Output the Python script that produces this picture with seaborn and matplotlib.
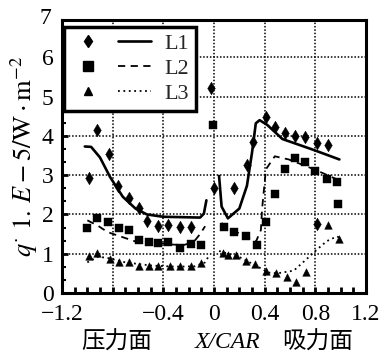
import matplotlib
matplotlib.use("Agg")
import matplotlib.pyplot as plt
import seaborn as sns
from matplotlib.lines import Line2D
from matplotlib.legend_handler import HandlerTuple
from matplotlib.ticker import MultipleLocator, FixedLocator

# ---------------- data ----------------
# L1 (diamond markers, solid line)
l1_pts_x = [-0.99, -0.92, -0.83, -0.76, -0.67, -0.59, -0.53, -0.44, -0.36, -0.27, -0.18,
            -0.02, 0.0, 0.16, 0.26, 0.31, 0.41, 0.48, 0.56, 0.64, 0.72, 0.81, 0.90, 0.81]
l1_pts_y = [2.92, 4.15, 3.55, 2.72, 2.42, 2.17, 1.84, 1.70, 1.72, 1.67, 1.68,
            5.22, 2.67, 2.68, 3.25, 3.85, 4.47, 4.23, 4.07, 3.99, 3.97, 3.82, 3.76, 1.76]
l1_ps_x = [-1.02, -0.97, -0.90, -0.82, -0.72, -0.62, -0.53, -0.40, -0.24, -0.11, -0.08, -0.06]
l1_ps_y = [3.73, 3.72, 3.45, 2.95, 2.45, 2.15, 2.00, 1.94, 1.93, 1.92, 2.02, 2.36]
l1_ss_x = [0.04, 0.06, 0.11, 0.20, 0.26, 0.30, 0.33, 0.36, 0.42, 0.54, 0.78, 0.99]
l1_ss_y = [2.98, 2.20, 1.90, 2.15, 2.73, 3.57, 4.32, 4.40, 4.28, 3.92, 3.65, 3.40]

# L2 (square markers, dashed line)
l2_pts_x = [-1.0, -0.92, -0.84, -0.75, -0.67, -0.59, -0.51, -0.44, -0.36, -0.27, -0.18, -0.10,
            -0.01, 0.08, 0.16, 0.25, 0.34, 0.41, 0.485, 0.56, 0.64, 0.72, 0.80, 0.89, 0.97, 0.98]
l2_pts_y = [1.65, 1.90, 1.82, 1.66, 1.60, 1.36, 1.31, 1.27, 1.29, 1.15, 1.24, 1.23,
            4.28, 1.67, 1.56, 1.44, 1.23, 1.80, 2.52, 3.16, 3.44, 3.33, 3.11, 2.90, 2.83, 2.27]
l2_ps_x = [-1.0, -0.92, -0.84, -0.72, -0.60, -0.47, -0.37, -0.24, -0.16, -0.11, -0.07]
l2_ps_y = [1.85, 1.72, 1.55, 1.42, 1.29, 1.30, 1.24, 1.22, 1.30, 1.50, 1.70]
l2_ss_x = [0.06, 0.16, 0.25, 0.33, 0.37, 0.38, 0.41, 0.48, 0.59, 0.79, 0.98]
l2_ss_y = [1.78, 1.58, 1.44, 1.30, 1.60, 2.15, 3.15, 3.48, 3.40, 3.15, 2.88]

# L3 (triangle markers, dotted line)
l3_pts_x = [-0.99, -0.92, -0.82, -0.75, -0.67, -0.59, -0.51, -0.44, -0.35, -0.27, -0.18, -0.10,
            0.07, 0.11, 0.17, 0.25, 0.32, 0.41, 0.49, 0.58, 0.65, 0.73, 0.90, 0.99]
l3_pts_y = [0.93, 1.01, 0.86, 0.80, 0.79, 0.70, 0.70, 0.70, 0.70, 0.69, 0.69, 0.76,
            1.03, 0.98, 0.98, 0.82, 0.74, 0.55, 0.51, 0.41, 0.27, 0.54, 1.74, 1.37]
l3_ps_x = [-1.0, -0.92, -0.85, -0.70, -0.50, -0.30, -0.15, -0.07, -0.04]
l3_ps_y = [0.78, 0.92, 0.90, 0.78, 0.70, 0.67, 0.68, 0.78, 0.95]
l3_ss_x = [0.04, 0.21, 0.33, 0.43, 0.50, 0.63, 0.73, 0.80, 0.89, 0.97, 1.00]
l3_ss_y = [1.07, 0.90, 0.70, 0.52, 0.50, 0.57, 0.86, 1.07, 1.32, 1.44, 1.40]

series_labels = ["L1", "L2", "L3"]
x_ticks = [-1.2, -0.4, 0.0, 0.4, 0.8, 1.2]
x_tick_labels = ["\u22121.2", "\u22120.4", "0", "0.4", "0.8", "1.2"]
y_ticks = [0, 1, 2, 3, 4, 5, 6, 7]

# ---------------- style ----------------
sns.set_theme(style="ticks")
plt.rcParams["font.family"] = ["Liberation Serif", "Noto Sans CJK SC", "DejaVu Sans"]
plt.rcParams["mathtext.fontset"] = "stix"
plt.rcParams["axes.unicode_minus"] = True

fig = plt.figure(figsize=(3.91, 3.53), dpi=100)
ax = fig.add_axes([62 / 391, 1 - 293 / 353, (366 - 62) / 391, (293 - 20) / 353])

styles = [
    (l1_pts_x, l1_pts_y, [(l1_ps_x, l1_ps_y), (l1_ss_x, l1_ss_y)], "d", 42, "-", 1.9),
    (l2_pts_x, l2_pts_y, [(l2_ps_x, l2_ps_y), (l2_ss_x, l2_ss_y)], "s", 34, (0, (4, 3)), 1.3),
    (l3_pts_x, l3_pts_y, [(l3_ps_x, l3_ps_y), (l3_ss_x, l3_ss_y)], "^", 30, (0, (1, 2)), 1.3),
]

handles = []
for (px, py, segs, mk, ms, ls, lw), lab in zip(styles, series_labels):
    for sx, sy in segs:
        sns.lineplot(x=sx, y=sy, ax=ax, color="black", linestyle=ls, linewidth=lw,
                     sort=False, estimator=None, legend=False)
    sns.scatterplot(x=px, y=py, ax=ax, color="black", marker=mk, s=ms,
                    edgecolor="black", linewidth=0.3, legend=False, zorder=3)
    h_m = Line2D([], [], color="black", marker=mk, linestyle="none",
                 markersize=6.5 if mk != "^" else 5.5)
    h_l = Line2D([], [], color="black", linestyle=ls, linewidth=lw)
    handles.append((h_m, h_l))

ax.set_xlim(-1.2, 1.2)
ax.set_ylim(0.0, 6.95)

# grid (dotted)
for gx in [-0.8, -0.4, 0.0, 0.4, 0.8]:
    ax.axvline(gx, color="black", linestyle=(0, (1, 1.2)), linewidth=1.1, zorder=1)
for gy in [1, 2, 3, 4, 5, 6]:
    ax.axhline(gy, color="black", linestyle=(0, (1, 1.2)), linewidth=1.1, zorder=1)

ax.xaxis.set_major_locator(FixedLocator(x_ticks))
ax.set_xticklabels(x_tick_labels)
ax.xaxis.set_minor_locator(MultipleLocator(0.1))
ax.yaxis.set_major_locator(FixedLocator(y_ticks[:-1]))
ax.set_yticklabels([str(v) for v in y_ticks[:-1]])
ax.yaxis.set_minor_locator(MultipleLocator(1 / 3))

ax.tick_params(axis="both", which="both", direction="in", color="black",
               top=False, right=False)
ax.tick_params(axis="x", which="major", length=4, width=2, pad=8, labelsize=17)
ax.tick_params(axis="x", which="minor", length=4, width=2)
ax.tick_params(axis="y", which="major", length=4, width=2, pad=6, labelsize=17)
ax.tick_params(axis="y", which="minor", length=3, width=1.5)
for lbl in ax.get_xticklabels() + ax.get_yticklabels():
    lbl.set_color("black")

# top "7" label sits just above the frame
ax.text(-0.035, 7.0, str(y_ticks[-1]), transform=ax.get_yaxis_transform(),
        ha="right", va="center", fontsize=17, color="black")

for sp in ax.spines.values():
    sp.set_visible(True)
    sp.set_linewidth(2.2)
    sp.set_color("black")

ax.set_ylabel(r"$q^{\cdot}\ \mathrm{1.}\,E-\mathrm{5/W}\cdot\mathrm{m}^{-2}$",
              fontsize=19, color="black", labelpad=1)

leg = ax.legend(handles, series_labels, handler_map={tuple: HandlerTuple(ndivide=None, pad=0.6)},
                loc="upper left", bbox_to_anchor=(0.008, 0.975), borderaxespad=0,
                fancybox=False, framealpha=1, edgecolor="black", fontsize=16,
                handlelength=3.6, handletextpad=0.6, labelspacing=0.2,
                borderpad=0.3)
leg.get_frame().set_linewidth(2.5)

fig.text(117 / 391, 1 - 342 / 353, "压力面", ha="center", va="center", fontsize=17,
         family=["Noto Sans CJK SC"], color="black")
fig.text(228 / 391, 1 - 342 / 353, "X/CAR", ha="center", va="center", fontsize=17,
         style="italic", family=["Liberation Serif"], color="black")
fig.text(318 / 391, 1 - 342 / 353, "吸力面", ha="center", va="center", fontsize=17,
         family=["Noto Sans CJK SC"], color="black")

fig.savefig("out.png", dpi=100, facecolor="white")
